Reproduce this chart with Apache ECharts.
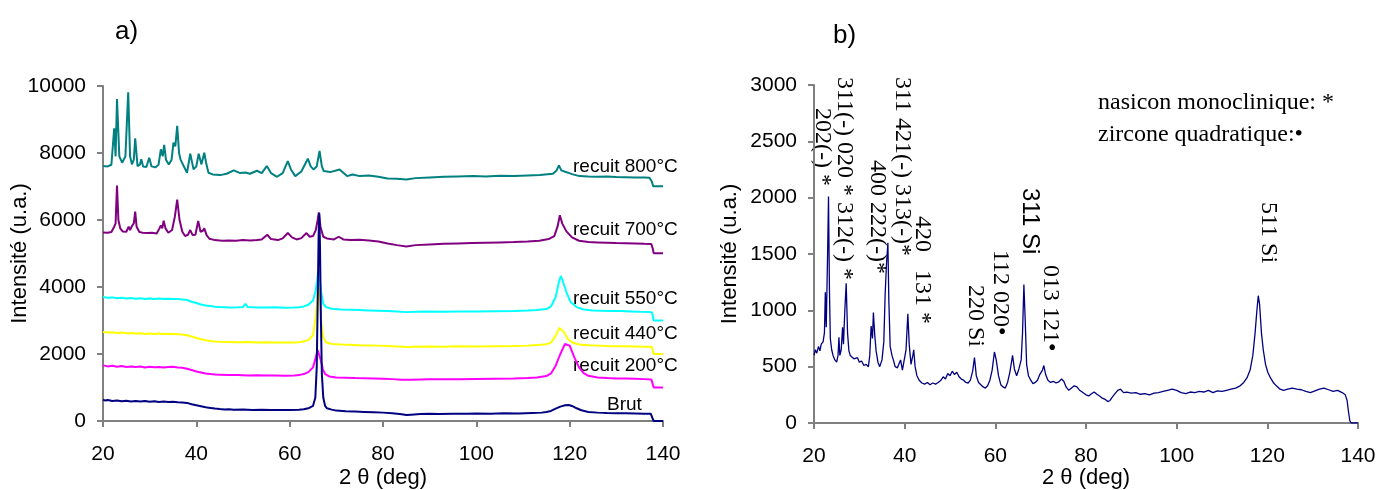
<!DOCTYPE html>
<html>
<head>
<meta charset="utf-8">
<script src="https://cdn.jsdelivr.net/npm/echarts@6/dist/echarts.min.js"></script>
<style>html,body{margin:0;padding:0;background:#fff}#c{width:1380px;height:490px}</style>
</head>
<body>
<div id="c"></div>
<script>
// ---- data (2θ in degrees, intensity in a.u.) ----
const xTicks = [20, 40, 60, 80, 100, 120, 140];
const leftYTicks = [0, 2000, 4000, 6000, 8000, 10000];
const rightYTicks = [0, 500, 1000, 1500, 2000, 2500, 3000];

const brut = [[20,640],[20.5,610],[21,625],[22,600],[23,615],[24,590],[25,605],[26,585],[27,600],[28,580],[29,595],[30,575],[31,590],[32,570],[33,585],[34,565],[35,575],[36,560],[37,555],[38,540],[39,500],[40,470],[41,440],[42,410],[43,390],[44,370],[45,355],[46,345],[47,350],[48,335],[50,340],[52,330],[54,335],[56,325],[58,330],[60,325],[62,335],[63,350],[64,380],[65,450],[65.5,700],[65.8,1600],[66,3500],[66.2,5500],[66.35,6200],[66.5,5200],[66.7,3000],[66.9,1400],[67.2,700],[67.6,450],[68,380],[69,340],[70,310],[72,290],[74,280],[76,270],[78,260],[80,250],[82,230],[84,200],[85,180],[86,190],[88,210],[90,215],[92,210],[95,220],[98,215],[100,225],[103,220],[106,230],[109,225],[112,240],[114,250],[115,270],[116,300],[117,370],[118,430],[119,470],[119.8,480],[120.5,450],[121.5,380],[122.5,320],[124,270],[126,250],[128,240],[130,235],[132,230],[134,225],[136,220],[137.4,215],[137.7,100],[138,0],[140,0]];

const recuit200 = [[20,1660],[21,1630],[22,1650],[23,1620],[24,1640],[25,1615],[26,1630],[27,1610],[28,1625],[29,1600],[30,1620],[31,1605],[32,1615],[33,1600],[34,1610],[35,1620],[36,1600],[37,1590],[38,1560],[39,1520],[40,1480],[41,1450],[42,1420],[43,1400],[44,1385],[45,1380],[47,1370],[49,1375],[51,1360],[53,1365],[55,1355],[57,1360],[59,1350],[61,1360],[62,1370],[63,1400],[64,1460],[65,1600],[65.6,1900],[66,2120],[66.3,2080],[66.7,1800],[67.1,1550],[67.6,1400],[68.5,1330],[70,1300],[72,1290],[74,1280],[76,1275],[78,1270],[80,1260],[82,1250],[84,1235],[86,1230],[88,1240],[90,1245],[93,1250],[96,1245],[100,1255],[104,1260],[108,1265],[111,1280],[113,1300],[115,1340],[116,1420],[117,1650],[118,2000],[119,2300],[119.4,2350],[120,2250],[121,1900],[122,1600],[123,1430],[124,1350],[126,1300],[128,1280],[130,1270],[132,1265],[134,1260],[136,1250],[137.5,1240],[137.8,1100],[138,1000],[140,1000]];

const recuit440 = [[20,2660],[21,2640],[22,2650],[23,2625],[24,2640],[25,2620],[26,2630],[27,2610],[28,2620],[29,2600],[30,2615],[31,2600],[32,2610],[33,2595],[34,2605],[35,2600],[36,2590],[37,2580],[38,2560],[39,2520],[40,2480],[41,2440],[42,2410],[43,2390],[44,2375],[45,2365],[47,2360],[49,2350],[51,2355],[53,2345],[55,2350],[57,2340],[59,2345],[61,2340],[62,2350],[63,2370],[64,2420],[65,2560],[65.6,3100],[66,3800],[66.2,4000],[66.5,3600],[66.8,2900],[67.2,2500],[67.8,2350],[69,2300],[71,2285],[73,2275],[75,2260],[77,2255],[79,2250],[81,2240],[83,2225],[85,2210],[87,2220],[90,2225],[93,2220],[96,2230],[100,2225],[104,2235],[108,2240],[111,2250],[113,2265],[115,2290],[116,2340],[117,2550],[117.8,2780],[118.2,2800],[118.8,2650],[119.6,2450],[120.5,2350],[122,2280],[124,2260],[126,2250],[128,2240],[130,2235],[132,2230],[134,2225],[136,2220],[137.6,2215],[137.8,2100],[138,2000],[140,2000]];

const recuit550 = [[20,3700],[21,3680],[22,3690],[23,3665],[24,3680],[25,3655],[26,3670],[27,3650],[28,3665],[29,3645],[30,3660],[31,3640],[32,3655],[33,3640],[34,3650],[35,3645],[36,3640],[37,3630],[38,3610],[39,3560],[40,3520],[41,3480],[42,3450],[43,3430],[44,3410],[45,3400],[47,3390],[49,3395],[50,3400],[50.5,3500],[51,3400],[53,3390],[55,3385],[57,3395],[59,3380],[61,3385],[62,3395],[63,3420],[64,3470],[65,3600],[65.6,3900],[66,4350],[66.25,4500],[66.5,4200],[66.8,3800],[67.2,3500],[67.8,3400],[69,3350],[71,3330],[73,3320],[75,3310],[77,3300],[79,3290],[81,3280],[83,3270],[85,3250],[87,3260],[90,3265],[93,3260],[96,3270],[100,3265],[104,3275],[108,3280],[111,3295],[113,3310],[115,3340],[116,3420],[117,3700],[117.7,4150],[118.1,4330],[118.6,4150],[119.3,3850],[120.2,3550],[121.5,3400],[123,3330],[125,3300],[127,3290],[129,3285],[131,3280],[133,3270],[135,3260],[137.6,3250],[137.8,3150],[138,3000],[140,3000]];

const recuit700 = [[20,5630],[21,5620],[21.8,5640],[22.4,5800],[22.7,5900],[23,7030],[23.3,6000],[23.7,5750],[24.2,5660],[25,5650],[25.5,5800],[25.8,5700],[26.2,5820],[26.6,5900],[26.9,6250],[27.2,5800],[27.8,5640],[28.5,5620],[29.5,5610],[30.5,5620],[31.5,5600],[32.1,5750],[32.4,5840],[32.7,5750],[33,5980],[33.4,5750],[34,5620],[34.8,5700],[35.4,6100],[35.9,6610],[36.4,6000],[37,5650],[37.6,5520],[38.2,5560],[38.7,5700],[39.2,5550],[39.8,5560],[40.4,5970],[40.9,5650],[41.4,5680],[41.7,5750],[42.2,5550],[42.8,5440],[44,5400],[45.5,5380],[47,5390],[48.5,5380],[50,5400],[51.5,5385],[53,5400],[54,5420],[55.2,5560],[56,5430],[57.5,5400],[58.5,5450],[59.6,5610],[60.5,5480],[61.5,5420],[62.5,5460],[63.6,5610],[64.3,5500],[65,5520],[65.6,5700],[66,6000],[66.25,6230],[66.6,5800],[67.2,5500],[68,5450],[69.5,5420],[70.5,5500],[71.5,5420],[73,5400],[75,5410],[77,5390],[79,5360],[81,5300],[83,5250],[85,5210],[87,5250],[90,5270],[93,5290],[96,5300],[99,5310],[102,5320],[105,5330],[108,5340],[111,5360],[113.5,5380],[115.5,5430],[116.7,5520],[117.4,5800],[117.9,6140],[118.4,5900],[119.3,5660],[120.5,5480],[122,5380],[124,5340],[126,5330],[128,5320],[130,5310],[132,5305],[134,5300],[136,5290],[137.5,5285],[137.8,5150],[138,5010],[140,5010]];

const recuit800 = [[20,7610],[21,7600],[21.8,7650],[22.4,8740],[22.7,7900],[23,9610],[23.5,7900],[24.1,7710],[24.8,7900],[25.4,9810],[25.8,7900],[26.2,7660],[26.6,7800],[26.9,8440],[27.4,7610],[27.9,7650],[28.2,7810],[28.6,7600],[29.3,7580],[29.9,7860],[30.4,7600],[31.2,7570],[31.9,7650],[32.4,8110],[32.8,7900],[33.1,8240],[33.5,7800],[34.1,7660],[34.7,7800],[35.1,8310],[35.5,8200],[35.9,8810],[36.3,8000],[36.6,7810],[37.3,7610],[38,7410],[38.7,7980],[39.4,7510],[40,7600],[40.5,7980],[41.1,7660],[41.7,8010],[42.1,7700],[42.6,7410],[43.5,7360],[45.1,7340],[46.5,7380],[48,7480],[49.4,7400],[50.5,7420],[51.5,7380],[53,7470],[54,7400],[55.1,7610],[56,7400],[57.3,7290],[58.5,7400],[59.6,7760],[60.3,7500],[61.2,7310],[62.5,7450],[63.9,7830],[64.5,7600],[65.1,7510],[65.8,7600],[66.4,8060],[66.9,7600],[67.3,7460],[68.7,7430],[70.7,7510],[72.3,7310],[73.5,7360],[75,7310],[77,7330],[79,7290],[81,7240],[83,7230],[85,7210],[87,7250],[90,7270],[93,7290],[96,7300],[99.3,7310],[102,7300],[105,7320],[108,7310],[111,7330],[113.6,7340],[116.4,7380],[117.2,7480],[117.7,7630],[118.2,7480],[118.6,7460],[119.5,7420],[120.5,7370],[122.1,7310],[124,7300],[126,7290],[128,7295],[130,7280],[132,7275],[134,7270],[136,7265],[137.1,7260],[137.6,7150],[137.9,7010],[140,7010]];

const pattern = [[20,600],[20.3,650],[20.6,620],[21,680],[21.3,640],[21.6,700],[22,720],[22.3,800],[22.5,1160],[22.7,850],[23,1500],[23.2,2010],[23.4,1200],[23.6,750],[23.9,650],[24.2,600],[24.6,560],[25,540],[25.3,600],[25.5,760],[25.7,600],[26,650],[26.3,850],[26.5,700],[26.8,1000],[27.1,1240],[27.4,800],[27.7,640],[28,600],[28.4,590],[28.8,570],[29.2,560],[29.6,580],[30,540],[30.5,550],[31,510],[31.5,520],[32,500],[32.3,600],[32.6,860],[32.9,750],[33.1,980],[33.4,780],[33.7,640],[34.1,540],[34.5,500],[35,560],[35.4,720],[35.7,1150],[36,1420],[36.3,1600],[36.5,1100],[36.8,680],[37.2,600],[37.5,560],[37.9,500],[38.4,490],[38.8,530],[39.1,560],[39.5,470],[39.9,460],[40.3,650],[40.7,970],[41,700],[41.4,520],[41.8,600],[42,650],[42.3,500],[42.7,420],[43.2,380],[43.8,355],[44.4,345],[45,360],[45.6,340],[46.2,355],[46.8,345],[47.4,360],[48,380],[48.5,410],[49,390],[49.5,440],[50,420],[50.5,460],[51,430],[51.5,450],[52,410],[52.5,390],[53,380],[53.5,360],[54,355],[54.5,380],[55,460],[55.4,580],[55.8,420],[56.3,360],[56.8,340],[57.3,320],[57.8,310],[58.3,330],[58.8,380],[59.3,470],[59.8,630],[60.2,560],[60.7,420],[61.2,340],[61.7,320],[62.2,310],[62.7,360],[63.2,450],[63.8,600],[64.2,480],[64.7,420],[65.2,480],[65.7,560],[66,800],[66.3,1230],[66.6,900],[66.9,520],[67.3,420],[67.8,380],[68.3,350],[68.8,360],[69.3,380],[69.8,430],[70.4,470],[70.7,510],[71.1,430],[71.6,380],[72.2,360],[72.8,370],[73.4,355],[74,365],[74.6,390],[75.1,370],[75.6,320],[76.2,290],[76.8,310],[77.4,330],[78,320],[78.6,290],[79.3,270],[80,250],[80.6,240],[81.2,260],[81.8,275],[82.4,255],[83,240],[83.6,220],[84.2,210],[84.8,190],[85.3,200],[85.8,230],[86.4,260],[87,290],[87.6,300],[88.3,270],[89,275],[90,265],[91,270],[92,255],[93,260],[94,250],[95,265],[96,270],[97,280],[98,290],[99,300],[100,290],[101,270],[102,260],[103,275],[104,270],[105,280],[106,275],[107,290],[108,270],[109,285],[110,280],[111,290],[112,300],[113,310],[114,330],[114.8,360],[115.5,400],[116.2,470],[116.8,600],[117.3,800],[117.7,1000],[118,1130],[118.3,1050],[118.7,800],[119.1,650],[119.6,520],[120.1,450],[120.7,400],[121.3,360],[122,330],[122.8,300],[123.6,290],[124.5,300],[125.5,310],[126.5,300],[127.5,295],[128.5,280],[129.5,270],[130.5,285],[131.5,300],[132.5,310],[133.5,295],[134.5,280],[135.5,290],[136.5,270],[137.2,250],[137.6,200],[137.9,100],[138.2,20],[138.5,0],[140,0]];

const seriesNames = ['recuit 800°C','recuit 700°C','recuit 550°C','recuit 440°C','recuit 200°C','Brut'];
const seriesData = [recuit800, recuit700, recuit550, recuit440, recuit200, brut];
const seriesColors = ['#008080','#800080','#00FFFF','#FFFF00','#FF00FF','#000080'];

// ---- chart ----
const chart = echarts.init(document.getElementById('c'), null, {renderer:'canvas'});
const SANS = 'Liberation Sans, Arial, sans-serif';
const SERIF = 'Liberation Serif, Times New Roman, serif';

function xAxisCfg(gridIndex, gap) {
  return {
    type:'value', gridIndex, min: xTicks[0], max: xTicks[xTicks.length-1], interval: 20,
    name: '2 θ (deg)', nameLocation:'middle', nameGap: gap, nameMoveOverlap:false,
    nameTextStyle:{fontFamily:SANS, fontSize:22, color:'#000'},
    axisLine:{show:true, onZero:false, lineStyle:{color:'#808080', width:2}},
    axisTick:{show:true, inside:false, length:6, lineStyle:{color:'#808080', width:2}},
    axisLabel:{fontFamily:SANS, fontSize:21, color:'#000', margin:23, formatter: v => String(v)},
    splitLine:{show:false}
  };
}
function yAxisCfg(gridIndex, ticks, gap) {
  return {
    type:'value', gridIndex, min: ticks[0], max: ticks[ticks.length-1], interval: ticks[1]-ticks[0],
    name: 'Intensité (u.a.)', nameLocation:'middle', nameGap: gap, nameRotate: 90, nameMoveOverlap:false,
    nameTextStyle:{fontFamily:SANS, fontSize:22, color:'#000'},
    axisLine:{show:true, lineStyle:{color:'#808080', width:2}},
    axisTick:{show:true, inside:false, length:6, lineStyle:{color:'#808080', width:2}},
    axisLabel:{fontFamily:SANS, fontSize:21, color:'#000', margin:17, formatter: v => String(v)},
    splitLine:{show:false}
  };
}

const series = seriesData.map((d, i) => ({
  name: seriesNames[i], type:'line', xAxisIndex:0, yAxisIndex:0, data:d,
  showSymbol:false, symbol:'none', lineStyle:{color:seriesColors[i], width:2},
  itemStyle:{color:seriesColors[i]}, z: 2 + i
}));
series.push({
  name:'b', type:'line', xAxisIndex:1, yAxisIndex:1, data:pattern,
  showSymbol:false, symbol:'none', lineStyle:{color:'#000080', width:1.3}
});

function txt(text, x, y, font, align) {
  return {type:'text', x, y, style:{text, font, fill:'#000', textAlign: align||'left', textVerticalAlign:'middle'}};
}
function rot(text, x, yTop, font) {
  return {type:'text', x, y:yTop, rotation:-Math.PI/2,
    style:{text, font: font || ('24px ' + SERIF), fill:'#000', textAlign:'left', textVerticalAlign:'middle'}};
}

const lab = '19px ' + SANS;
const graphic = [
  txt('a)', 115, 32, '26px ' + SANS),
  txt('b)', 833, 36, '26px ' + SANS),
  txt('recuit 800°C', 573, 167, lab),
  txt('recuit 700°C', 573, 230, lab),
  txt('recuit 550°C', 573, 299, lab),
  txt('recuit 440°C', 573, 334, lab),
  txt('recuit 200°C', 573, 366, lab),
  txt('Brut', 607, 405, lab),
  txt('nasicon monoclinique: *', 1098, 103, '24px ' + SERIF),
  txt('zircone quadratique:•', 1098, 135, '24px ' + SERIF),
  rot('202(-) *', 822, 108),
  rot('311(-) 020 * 312(-) *', 844, 77),
  rot('400 222(-)*', 877, 160),
  rot('311 421(-) 313(-)*', 902, 77),
  rot('420', 922, 216),
  rot('131 *', 922, 270),
  rot('220 Si', 975, 285),
  rot('112 020•', 1000, 250),
  rot('311 Si', 1030, 188, '24px ' + SANS),
  rot('013 121•', 1050, 265),
  rot('511 Si', 1268, 202)
];

chart.setOption({
  animation:false,
  backgroundColor:'#fff',
  grid:[
    {left:103, right:717, top:86, bottom:69, containLabel:false, outerBoundsMode:'none'},
    {left:814, right:22, top:85, bottom:67, containLabel:false, outerBoundsMode:'none'}
  ],
  xAxis:[xAxisCfg(0, 46), xAxisCfg(1, 44)],
  yAxis:[yAxisCfg(0, leftYTicks, 72), yAxisCfg(1, rightYTicks, 73)],
  series,
  graphic
});
</script>
</body>
</html>
